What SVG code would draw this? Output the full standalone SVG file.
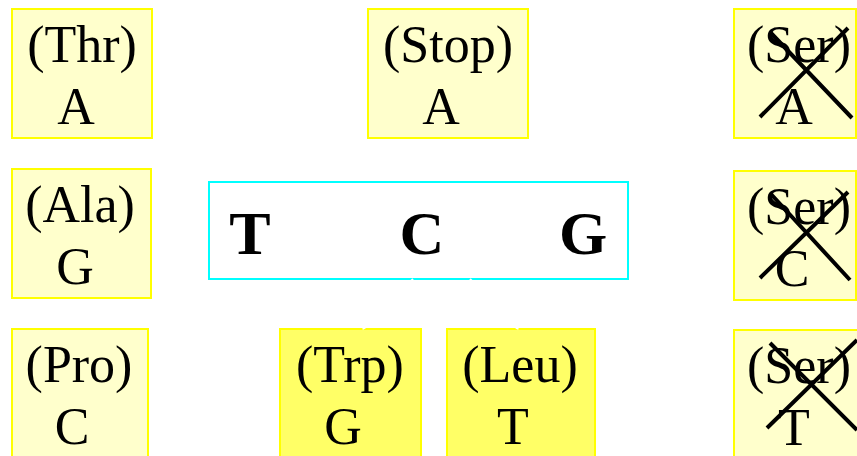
<svg xmlns="http://www.w3.org/2000/svg" width="857" height="456" viewBox="0 0 857 456">
  <style>
    .box { fill: #FFFFCC; stroke: #FFFF00; stroke-width: 2; }
    .hot { fill: #FFFF66; stroke: #FFFF00; stroke-width: 2; }
    .lbl { font-family: "Liberation Serif", "Times New Roman", serif; font-size: 52px; fill: #000; text-anchor: middle; }
    .base { font-family: "Liberation Serif", "Times New Roman", serif; font-size: 62px; font-weight: bold; fill: #000; text-anchor: middle; }
    .cross { stroke: #000; stroke-width: 4; fill: none; }
    .link { stroke: #FFFFFF; stroke-width: 2; fill: none; }
  </style>
  <defs>
    <marker id="arrow" markerWidth="10" markerHeight="8" refX="9" refY="4" orient="auto" markerUnits="userSpaceOnUse">
      <path d="M0,0 L10,4 L0,8 Z" fill="#FFFFFF"/>
    </marker>
  </defs>
  <rect width="857" height="456" fill="#FFFFFF"/>

  <!-- first codon column -->
  <g id="thr">
    <rect class="box" x="12" y="9" width="140" height="129"/>
    <text class="lbl" x="82" y="62">(Thr)</text>
    <text class="lbl" x="76" y="124">A</text>
  </g>
  <g id="ala">
    <rect class="box" x="12" y="169" width="139" height="129"/>
    <text class="lbl" x="80" y="222">(Ala)</text>
    <text class="lbl" x="75" y="284">G</text>
  </g>
  <g id="pro">
    <rect class="box" x="12" y="329" width="136" height="135"/>
    <text class="lbl" x="79" y="382">(Pro)</text>
    <text class="lbl" x="72" y="444">C</text>
  </g>

  <!-- stop codon -->
  <g id="stop">
    <rect class="box" x="368" y="9" width="160" height="129"/>
    <text class="lbl" x="448" y="62">(Stop)</text>
    <text class="lbl" x="441" y="124">A</text>
  </g>

  <!-- codon -->
  <g id="codon">
    <rect x="209" y="182" width="419" height="97" fill="#FFFFFF" stroke="#00FFFF" stroke-width="2"/>
    <text class="base" x="250" y="254">T</text>
    <text class="base" x="422" y="254">C</text>
    <text class="base" x="583" y="254">G</text>
  </g>

  <!-- substitutions of the second base -->
  <g id="trp">
    <rect class="hot" x="280" y="329" width="141" height="135"/>
    <text class="lbl" x="350" y="382">(Trp)</text>
    <text class="lbl" x="343" y="444">G</text>
  </g>
  <g id="leu">
    <rect class="hot" x="447" y="329" width="148" height="135"/>
    <text class="lbl" x="520" y="382">(Leu)</text>
    <text class="lbl" x="513" y="444">T</text>
  </g>

  <!-- synonymous third-base changes, struck out -->
  <g id="ser-a">
    <rect class="box" x="734" y="9" width="122" height="129"/>
    <text class="lbl" x="799" y="62">(Ser)</text>
    <text class="lbl" x="794" y="124">A</text>
    <path class="cross" d="M760,117 L848,28 M770,32 L852,118"/>
  </g>
  <g id="ser-c">
    <rect class="box" x="734" y="171" width="122" height="129"/>
    <text class="lbl" x="799" y="224">(Ser)</text>
    <text class="lbl" x="792" y="286">C</text>
    <path class="cross" d="M760,278 L848,192 M770,193 L850,280"/>
  </g>
  <g id="ser-t">
    <rect class="box" x="734" y="330" width="124" height="134"/>
    <text class="lbl" x="799" y="383">(Ser)</text>
    <text class="lbl" x="794" y="445">T</text>
    <path class="cross" d="M767,428 L857,340 M770,343 L857,430"/>
  </g>

  <!-- connectors -->
  <g id="connectors">
    <path class="link" d="M413,279 L363,329" marker-end="url(#arrow)"/>
    <path class="link" d="M470,279 L518,329" marker-end="url(#arrow)"/>
  </g>
</svg>
